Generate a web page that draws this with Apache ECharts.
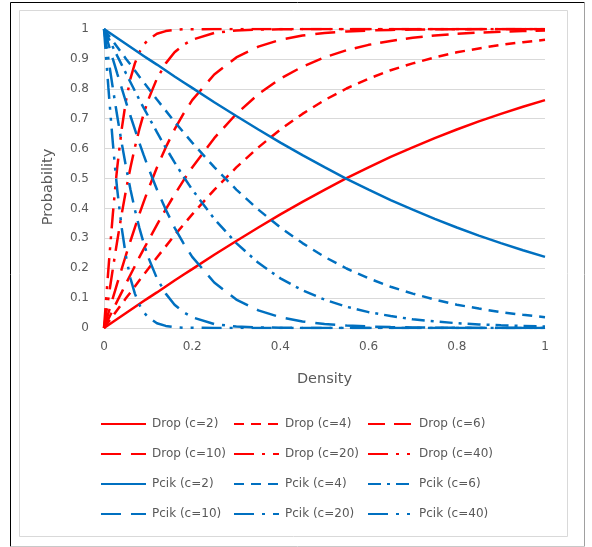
<!DOCTYPE html>
<html>
<head>
<meta charset="utf-8">
<script src="https://cdn.jsdelivr.net/npm/echarts@6/dist/echarts.min.js"></script>
<style>
  html, body { margin: 0; padding: 0; background: #fff; }
  #main { width: 592px; height: 547px; }
</style>
</head>
<body>
<div id="main"></div>
<script>
// density values (x axis)
var density = [0, 0.005, 0.01, 0.015, 0.02, 0.025, 0.03, 0.04, 0.05, 0.06, 0.07, 0.08, 0.09, 0.1,
  0.12, 0.14, 0.16, 0.18, 0.2, 0.25, 0.3, 0.35, 0.4, 0.45, 0.5, 0.55, 0.6, 0.65, 0.7, 0.75,
  0.8, 0.85, 0.9, 0.95, 1];

// Drop curves
var drop2 = [0, .005, .01, .015, .02, .025, .03, .04, .05, .06, .07, .08, .09, .1,
  .119, .139, .159, .178, .197, .245, .291, .336, .38, .422, .462, .501, .537, .572, .604, .635,
  .664, .691, .716, .74, .762];
var drop4 = [0, .01, .02, .03, .04, .05, .06, .08, .1, .119, .139, .159, .178, .197,
  .236, .273, .31, .345, .38, .462, .537, .604, .664, .716, .762, .801, .834, .862, .885, .905,
  .922, .935, .947, .956, .964];
var drop6 = [0, .015, .03, .045, .06, .075, .09, .119, .149, .178, .207, .236, .264, .291,
  .345, .397, .446, .493, .537, .635, .716, .782, .834, .874, .905, .929, .947, .96, .971, .978,
  .984, .988, .991, .993, .995];
var drop10 = [0, .025, .05, .075, .1, .124, .149, .197, .245, .291, .336, .38, .422, .462,
  .537, .604, .664, .716, .762, .848, .905, .941, .964, .978, .987, .992, .995, .997, .998, .999,
  .999, 1, 1, 1, 1];
var drop20 = [0, .05, .1, .149, .197, .245, .291, .38, .462, .537, .604, .664, .716, .762,
  .834, .885, .922, .947, .964, .987, .995, .998, .999, 1, 1, 1, 1, 1, 1, 1,
  1, 1, 1, 1, 1];
var drop40 = [0, .1, .197, .291, .38, .462, .537, .664, .762, .834, .885, .922, .947, .964,
  .984, .993, .997, .999, .999, 1, 1, 1, 1, 1, 1, 1, 1, 1, 1, 1,
  1, 1, 1, 1, 1];

// Pcik curves
var pcik2 = [1, .995, .99, .985, .98, .975, .97, .96, .95, .94, .93, .92, .91, .9,
  .881, .861, .841, .822, .803, .755, .709, .664, .62, .578, .538, .499, .463, .428, .396, .365,
  .336, .309, .284, .26, .238];
var pcik4 = [1, .99, .98, .97, .96, .95, .94, .92, .9, .881, .861, .841, .822, .803,
  .764, .727, .69, .655, .62, .538, .463, .396, .336, .284, .238, .199, .166, .138, .115, .095,
  .078, .065, .053, .044, .036];
var pcik6 = [1, .985, .97, .955, .94, .925, .91, .881, .851, .822, .793, .764, .736, .709,
  .655, .603, .554, .507, .463, .365, .284, .218, .166, .126, .095, .071, .053, .04, .029, .022,
  .016, .012, .009, .007, .005];
var pcik10 = [1, .975, .95, .925, .9, .876, .851, .803, .755, .709, .664, .62, .578, .538,
  .463, .396, .336, .284, .238, .152, .095, .059, .036, .022, .013, .008, .005, .003, .002, .001,
  .001, 0, 0, 0, 0];
var pcik20 = [1, .95, .9, .851, .803, .755, .709, .62, .538, .463, .396, .336, .284, .238,
  .166, .115, .078, .053, .036, .013, .005, .002, .001, 0, 0, 0, 0, 0, 0, 0,
  0, 0, 0, 0, 0];
var pcik40 = [1, .9, .803, .709, .62, .538, .463, .336, .238, .166, .115, .078, .053, .036,
  .016, .007, .003, .001, .001, 0, 0, 0, 0, 0, 0, 0, 0, 0, 0, 0,
  0, 0, 0, 0, 0];

var RED = '#ff0000';
var BLUE = '#0070c0';
var GRID = '#d9d9d9';
var TEXT = '#595959';
var FONT = 'DejaVu Sans';

// dash patterns
var dashes = {
  solid: 'solid',
  dash: [10, 7],
  longDash: [17, 9],
  longDash2: [20, 10],
  dashDot: [13, 6, 3, 6],
  longDashDot: [20, 8, 3, 8],
  longDashDotDot: [20, 8, 3, 8, 3, 8]
};

function pairs(ys) {
  return density.map(function (x, i) { return [x, ys[i]]; });
}

function mk(name, ys, color, type) {
  return {
    name: name,
    type: 'line',
    data: pairs(ys),
    symbol: 'none',
    showSymbol: false,
    lineStyle: { color: color, width: 2.5, type: type },
    itemStyle: { color: color }
  };
}

var seriesList = [
  mk('Drop (c=2)', drop2, RED, dashes.solid),
  mk('Drop (c=4)', drop4, RED, dashes.dash),
  mk('Drop (c=6)', drop6, RED, dashes.longDash),
  mk('Drop (c=10)', drop10, RED, dashes.longDash2),
  mk('Drop (c=20)', drop20, RED, dashes.longDashDot),
  mk('Drop (c=40)', drop40, RED, dashes.longDashDotDot),
  mk('Pcik (c=2)', pcik2, BLUE, dashes.solid),
  mk('Pcik (c=4)', pcik4, BLUE, dashes.dash),
  mk('Pcik (c=6)', pcik6, BLUE, dashes.dashDot),
  mk('Pcik (c=10)', pcik10, BLUE, dashes.longDash2),
  mk('Pcik (c=20)', pcik20, BLUE, dashes.longDashDot),
  mk('Pcik (c=40)', pcik40, BLUE, dashes.longDashDotDot)
];

// legend in 3 columns, 4 rows (symbol hidden, line only)
function legendCol(left, names) {
  return {
    orient: 'vertical',
    left: left,
    top: 418,
    padding: 0,
    itemWidth: 45,
    itemHeight: 14,
    itemGap: 18,
    itemStyle: { opacity: 0 },
    data: names,
    textStyle: { color: TEXT, fontFamily: FONT, fontSize: 12, padding: [0, 0, 0, 1] }
  };
}

var option = {
  animation: false,
  backgroundColor: '#fff',
  grid: { left: 104, right: 47, top: 29, bottom: 219, containLabel: false },
  xAxis: {
    type: 'value',
    min: 0,
    max: 1,
    interval: 0.2,
    name: 'Density',
    nameLocation: 'middle',
    nameGap: 44,
    nameTextStyle: { color: TEXT, fontFamily: FONT, fontSize: 14.5 },
    axisLine: { show: true, lineStyle: { color: GRID, width: 1 } },
    axisTick: { show: false },
    axisLabel: { color: TEXT, fontFamily: FONT, fontSize: 12, margin: 13 },
    splitLine: { show: false }
  },
  yAxis: {
    type: 'value',
    min: 0,
    max: 1,
    interval: 0.1,
    axisLine: { show: true, lineStyle: { color: GRID, width: 1 } },
    axisTick: { show: false },
    axisLabel: { color: TEXT, fontFamily: FONT, fontSize: 12, margin: 15 },
    splitLine: { show: true, lineStyle: { color: GRID, width: 1 } }
  },
  legend: [
    legendCol(100, ['Drop (c=2)', 'Drop (c=10)', 'Pcik (c=2)', 'Pcik (c=10)']),
    legendCol(233, ['Drop (c=4)', 'Drop (c=20)', 'Pcik (c=4)', 'Pcik (c=20)']),
    legendCol(367, ['Drop (c=6)', 'Drop (c=40)', 'Pcik (c=6)', 'Pcik (c=40)'])
  ],
  graphic: [
    // outer frame
    { type: 'line', shape: { x1: 10.5, y1: 2.5, x2: 584.5, y2: 2.5 }, style: { stroke: '#000', lineWidth: 1 } },
    { type: 'line', shape: { x1: 10.5, y1: 2.5, x2: 10.5, y2: 546.5 }, style: { stroke: '#000', lineWidth: 1 } },
    { type: 'line', shape: { x1: 584.5, y1: 2.5, x2: 584.5, y2: 546.5 }, style: { stroke: '#a0a0a0', lineWidth: 1 } },
    { type: 'line', shape: { x1: 10.5, y1: 546.5, x2: 584.5, y2: 546.5 }, style: { stroke: '#c8c8c8', lineWidth: 1 } },
    // chart area border
    { type: 'rect', shape: { x: 19.5, y: 10.5, width: 548, height: 526 }, style: { fill: null, stroke: GRID, lineWidth: 1 }, z: -1 },
    // y axis title
    {
      type: 'text',
      x: 48, y: 187,
      rotation: Math.PI / 2,
      style: { text: 'Probability', fill: TEXT, font: '14.5px "DejaVu Sans"', align: 'center', verticalAlign: 'middle' }
    }
  ],
  series: seriesList
};

var myChart = echarts.init(document.getElementById('main'));
myChart.setOption(option);
</script>
</body>
</html>
